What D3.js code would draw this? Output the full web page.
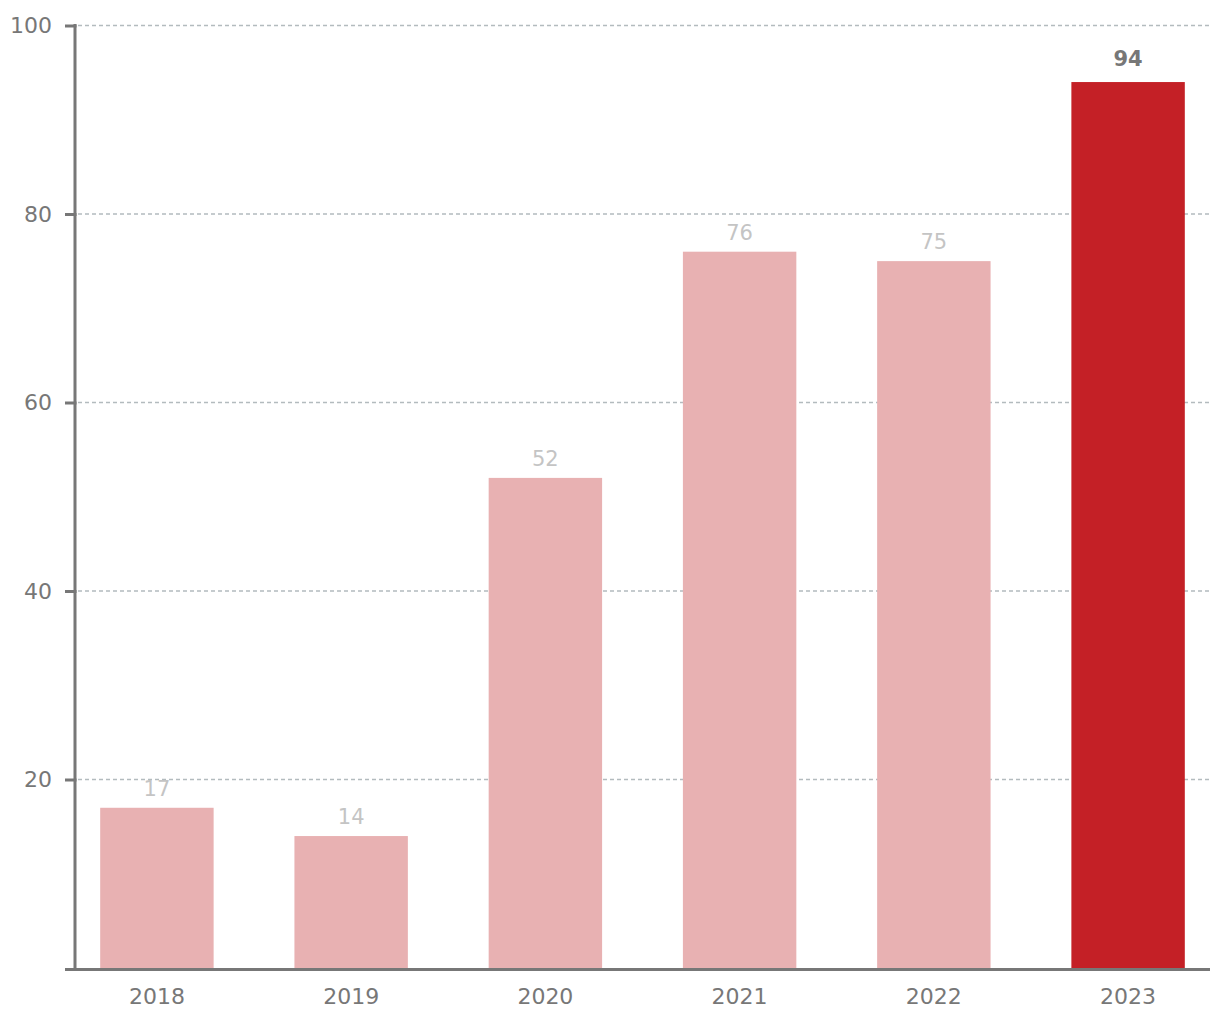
<!DOCTYPE html>
<html><head><meta charset="utf-8">
<script src="https://cdn.jsdelivr.net/npm/d3@7"></script>
<style>body{margin:0;background:#fff}svg{display:block}text{font-family:"DejaVu Sans",sans-serif}</style>
</head><body>
<svg id="c" width="1220" height="1020"></svg>
<script>
const years = ["2018","2019","2020","2021","2022","2023"];
const values = [17,14,52,76,75,94];
const highlight = ["2023"];
const yTicks = [20,40,60,80,100];

const svg = d3.select("#c");
const x = d3.scaleBand().domain(years).range([73,1212]).paddingInner(0.416).paddingOuter(0.14);
const y = d3.scaleLinear().domain([0,100]).range([968,25.5]);

// grid
svg.append("g").selectAll("line").data(yTicks).join("line")
  .attr("x1",78).attr("x2",1210).attr("y1",d=>y(d)).attr("y2",d=>y(d))
  .attr("stroke","#b3bbbe").attr("stroke-width",1.3).attr("stroke-dasharray","4,3");

// bars
svg.append("g").selectAll("rect").data(years).join("rect")
  .attr("x",d=>x(d)).attr("width",x.bandwidth())
  .attr("y",(d,i)=>y(values[i])).attr("height",(d,i)=>y(0)-y(values[i]))
  .attr("fill",d=>highlight.includes(d)?"#c42026":"#e8b1b2");

// value labels
svg.append("g").selectAll("text").data(years).join("text")
  .attr("x",d=>x(d)+x.bandwidth()/2).attr("y",(d,i)=>y(values[i])-(highlight.includes(d)?16:12))
  .attr("text-anchor","middle").attr("font-size",21)
  .attr("font-weight",d=>highlight.includes(d)?"bold":"normal")
  .attr("fill",d=>highlight.includes(d)?"#777":"#c4c4c4")
  .text((d,i)=>values[i]);

// y axis
const yAxis = d3.axisLeft(y).tickValues(yTicks).tickSize(10).tickPadding(13).tickFormat(d3.format("d"));
const gy = svg.append("g").attr("transform","translate(75,0)").call(yAxis);
gy.select(".domain").remove();
gy.selectAll(".tick line").attr("stroke","#777").attr("stroke-width",3).attr("x2",-10).attr("x1",1.5);
gy.selectAll(".tick text").attr("fill","#777").attr("font-size",22).attr("font-family","DejaVu Sans");
svg.append("line").attr("x1",75).attr("x2",75).attr("y1",y(100)-1.5).attr("y2",y(0))
  .attr("stroke","#777").attr("stroke-width",3);

// x axis
const xAxis = d3.axisBottom(x).tickSize(0).tickPadding(20);
const gx = svg.append("g").attr("transform",`translate(0,${y(0)})`).call(xAxis);
gx.select(".domain").remove();
gx.selectAll(".tick text").attr("fill","#777").attr("font-size",22).attr("font-family","DejaVu Sans");
svg.append("line").attr("x1",65).attr("x2",1210).attr("y1",y(0)+1.5).attr("y2",y(0)+1.5)
  .attr("stroke","#777").attr("stroke-width",3);
</script>
</body></html>
